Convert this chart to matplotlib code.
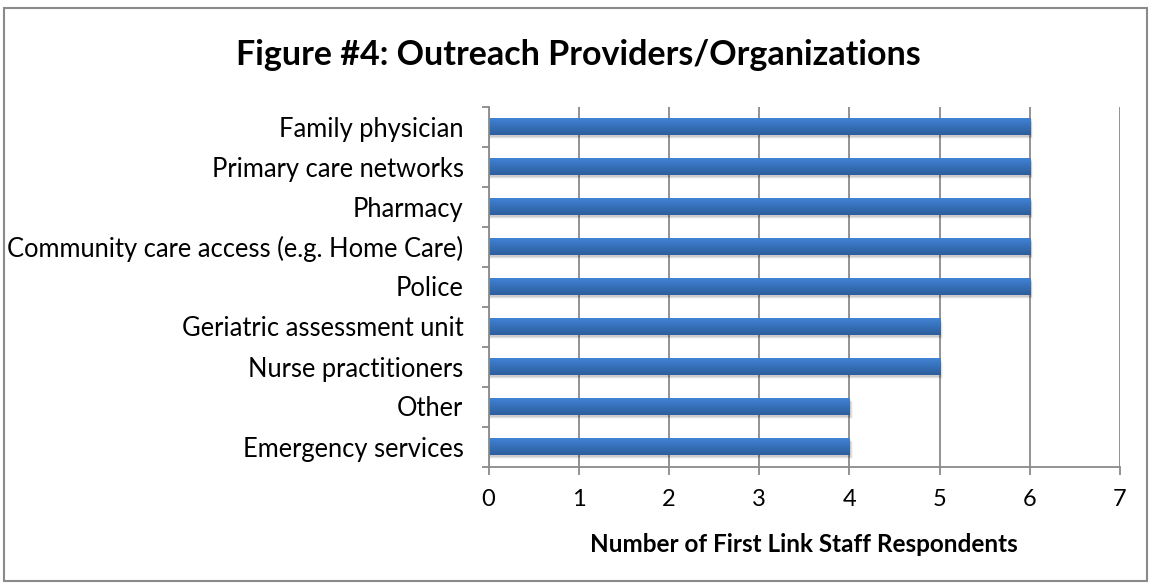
import matplotlib
matplotlib.use("Agg")
import matplotlib.pyplot as plt
import numpy as np
from matplotlib.patches import Rectangle
from matplotlib.ticker import FixedLocator

categories = [
    "Family physician",
    "Primary care networks",
    "Pharmacy",
    "Community care access (e.g. Home Care)",
    "Police",
    "Geriatric assessment unit",
    "Nurse practitioners",
    "Other",
    "Emergency services",
]
values = [6, 6, 6, 6, 6, 5, 5, 4, 4]
x_ticks = [0, 1, 2, 3, 4, 5, 6, 7]

title = "Figure #4: Outreach Providers/Organizations"
x_label = "Number of First Link Staff Respondents"

plt.rcParams["font.family"] = ["Lato", "DejaVu Sans"]

fig = plt.figure(figsize=(11.51, 5.85), dpi=100)
fig.patch.set_facecolor("white")
fig.add_artist(Rectangle((3.5 / 1151, 4 / 585), 1143 / 1151, 573 / 585,
                         transform=fig.transFigure, fill=False,
                         edgecolor="#8a8a8a", linewidth=1.5))

ax = fig.add_axes([488.5 / 1151, (585 - 466.5) / 585, 631.5 / 1151, 360 / 585])

n = len(categories)
ypos = np.arange(n)[::-1]
bar_h = 0.43

grid_c = "#8a8a8a"
for x in x_ticks:
    ax.axvline(x, color=grid_c, linewidth=1.3, zorder=1)

# gradient for the bars: lighter top, darker bottom
grad = np.linspace(0, 1, 64).reshape(-1, 1)
top_c = np.array([0x42, 0x85, 0xd8]) / 255
bot_c = np.array([0x2b, 0x5d, 0x9c]) / 255
grad_rgb = top_c[None, None, :] * (1 - grad[..., None]) + bot_c[None, None, :] * grad[..., None]

for y, v in zip(ypos, values):
    # soft shadow beneath each bar
    for k, a in enumerate([0.10, 0.07, 0.04]):
        ax.add_patch(Rectangle((0, y - bar_h / 2 - 0.04 - 0.03 * k), v + 0.02 + 0.01 * k,
                               bar_h, facecolor="black", alpha=a, linewidth=0, zorder=2))
    bars = ax.barh([y], [v], height=bar_h, color="#3a74c0", linewidth=0, zorder=3)
    patch = bars.patches[0]
    im = ax.imshow(grad_rgb, extent=(0, v, y - bar_h / 2, y + bar_h / 2),
                   aspect="auto", zorder=4, interpolation="bilinear")
    im.set_clip_path(patch)

ax.set_xlim(0, 7)
ax.set_ylim(-0.5, n - 0.5)

ax.set_yticks(ypos)
ax.set_yticklabels(categories)
ax.yaxis.set_minor_locator(FixedLocator(np.arange(-0.5, n, 1.0)))
ax.tick_params(axis="y", which="major", length=0, pad=18, labelsize=18.4, labelcolor="black")
ax.tick_params(axis="y", which="minor", length=5, width=1.3, color=grid_c, direction="out")

ax.set_xticks(x_ticks)
ax.set_xticklabels([str(t) for t in x_ticks])
ax.tick_params(axis="x", which="major", length=6, width=1.3, color=grid_c, direction="out",
               pad=10, labelsize=17, labelcolor="black")

for s in ["top", "right"]:
    ax.spines[s].set_visible(False)
for s in ["left", "bottom"]:
    ax.spines[s].set_color(grid_c)
    ax.spines[s].set_linewidth(1.3)
    ax.spines[s].set_zorder(5)

ax.set_xlabel(x_label, fontsize=17.5, fontweight="bold", labelpad=17)
fig.text(578 / 1151, 1 - 55 / 585, title, ha="center", va="center",
         fontsize=24.5, fontweight="bold")

fig.savefig("out.png", dpi=100, facecolor="white")
